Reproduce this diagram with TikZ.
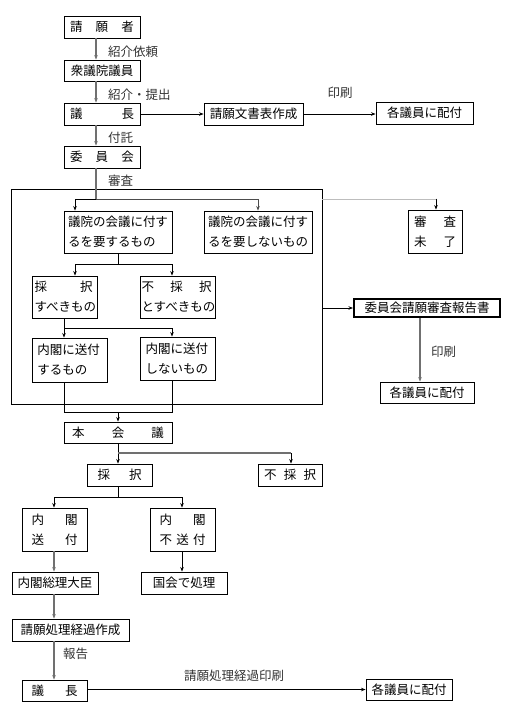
\documentclass[tikz,border=0pt]{standalone}
\usepackage{fontspec}
\setmainfont{Noto Sans CJK JP}
\usetikzlibrary{arrows.meta,calc}
\definecolor{lg}{HTML}{707070}
\definecolor{llg}{HTML}{BDBDBD}
\newcommand{\spr}[2]{\makebox[#1pt][s]{#2}}
\begin{document}
\begin{tikzpicture}[x=1pt,y=-1pt,
  box/.style={draw=black,line width=0.9pt,inner sep=0pt,font=\fontsize{12.5pt}{20pt}\selectfont},
  lbl/.style={inner sep=0pt,font=\fontsize{12.5pt}{20pt}\selectfont,text=black!80},
  ln/.style={line width=0.8pt,draw=black},
  gln/.style={line width=1.3pt,draw=lg},
  arr/.style={ln,-{Stealth[length=4.5pt,width=3.5pt]}},
  garr/.style={gln,-{Stealth[length=4.5pt,width=3.5pt]}}]
\useasboundingbox (0,0) rectangle (511,716);

% top column
\node[box,minimum width=76pt,minimum height=22pt] (seigan) at (102,27) {\spr{64}{請\hfill 願\hfill 者}};
\node[box,minimum width=76pt,minimum height=21pt] (shugiin) at (102,70.5) {衆議院議員};
\node[box,minimum width=76pt,minimum height=22pt] (gicho1) at (102,114) {\spr{64}{議\hfill 長}};
\node[box,minimum width=99pt,minimum height=22pt] (bunsho) at (253.5,114) {請願文書表作成};
\node[box,minimum width=97pt,minimum height=22pt] (haifu1) at (424.5,113) {各議員に配付};
\node[box,minimum width=76pt,minimum height=22pt] (iinkai) at (102,157) {\spr{64}{委\hfill 員\hfill 会}};

\node[lbl,anchor=west] (l1) at (108,52) {紹介依頼};
\node[lbl,anchor=west] (l2) at (108,95) {紹介・提出};
\node[lbl] (l3) at (340,93) {印刷};
\node[lbl,anchor=west] (l4) at (108,138) {付託};
\node[lbl,anchor=west] (l5) at (108,181) {審査};

% big box
\node[draw=black,line width=0.9pt,minimum width=311pt,minimum height=215pt,inner sep=0pt] (big) at (166.5,296.5) {};

\node[box,minimum width=108pt,minimum height=42pt] (yosuru) at (118,232)
  {\parbox{100pt}{議院の会議に付す\\るを要するもの}};
\node[box,minimum width=108pt,minimum height=42pt] (yoshinai) at (258,232)
  {\parbox{100pt}{議院の会議に付す\\るを要しないもの}};
\node[box,minimum width=54pt,minimum height=43pt] (miryo) at (435,231.5)
  {\parbox{42pt}{\spr{42}{審\hfill 査}\\\spr{42}{未\hfill 了}}};
\node[box,minimum width=65pt,minimum height=42pt] (saib) at (64.5,297)
  {\parbox{60pt}{\spr{58}{採\hfill 択}\\すべきもの}};
\node[box,minimum width=75pt,minimum height=42pt] (fusaib) at (177.5,297)
  {\parbox{72pt}{\spr{70}{不\hfill 採\hfill 択}\\とすべきもの}};
\node[box,minimum width=75pt,minimum height=44pt] (soufu) at (69.5,360)
  {\parbox{64pt}{内閣に送付\\するもの}};
\node[box,minimum width=75pt,minimum height=43pt] (fusoufu) at (177.5,358.5)
  {\parbox{64pt}{内閣に送付\\しないもの}};

% right side
\node[box,line width=2pt,minimum width=146pt,minimum height=18pt] (report) at (427,308) {委員会請願審査報告書};
\node[box,minimum width=94pt,minimum height=21pt] (haifu2) at (427,392.5) {各議員に配付};
\node[lbl,anchor=west] (l6) at (431,352) {印刷};

% bottom
\node[box,minimum width=108pt,minimum height=21pt] (honkaigi) at (118,432.5) {\spr{92}{本\hfill 会\hfill 議}};
\node[box,minimum width=65pt,minimum height=22pt] (saitaku) at (119.5,475) {\spr{44}{採\hfill 択}};
\node[box,minimum width=64pt,minimum height=22pt] (fusaitaku) at (290,475) {\spr{52}{不\hfill 採\hfill 択}};
\node[box,minimum width=65pt,minimum height=43pt] (nsoufu) at (54.5,529.5)
  {\parbox{46pt}{\spr{46}{内\hfill 閣}\\\spr{46}{送\hfill 付}}};
\node[box,minimum width=65pt,minimum height=43pt] (nfusoufu) at (182.5,529.5)
  {\parbox{46pt}{\spr{46}{内\hfill 閣}\\\spr{46}{不\hfill 送\hfill 付}}};
\node[box,minimum width=86pt,minimum height=22pt] (sori) at (55,583) {内閣総理大臣};
\node[box,minimum width=86pt,minimum height=22pt] (kokkai) at (184,583) {国会で処理};
\node[box,minimum width=117pt,minimum height=22pt] (keika) at (70.5,630) {請願処理経過作成};
\node[box,minimum width=65pt,minimum height=21pt] (gicho2) at (54.5,690.5) {\spr{46}{議\hfill 長}};
\node[box,minimum width=86pt,minimum height=21pt] (haifu3) at (409,689.5) {各議員に配付};
\node[lbl,anchor=west] (l7) at (63,654) {報告};
\node[lbl] (l8) at (234,676) {請願処理経過印刷};

% helper coordinates
\coordinate (vx) at (96,0);
\coordinate (j1) at (96,199);
\coordinate (a75) at (75,0);
\coordinate (a258) at (258,0);
\coordinate (a436) at (436,0);
\coordinate (j2) at (118,264);
\coordinate (a172) at (172,0);
\coordinate (a64) at (64,0);
\coordinate (j3) at (64,328);
\coordinate (j4) at (118,412);
\coordinate (a420) at (420,0);
\coordinate (j5) at (118,453);
\coordinate (a291) at (291,0);
\coordinate (j6) at (118,497);
\coordinate (a54) at (54,0);
\coordinate (a182) at (182,0);

% connectors top
\draw[garr] (seigan.south -| vx) -- (shugiin.north -| vx);
\draw[garr] (shugiin.south -| vx) -- (gicho1.north -| vx);
\draw[garr] (gicho1.south -| vx) -- (iinkai.north -| vx);
\draw[arr] (gicho1.east) -- (bunsho.west);
\draw[arr] (bunsho.east) -- (haifu1.west |- bunsho.east);
\draw[gln] (iinkai.south -| vx) -- (j1);
\draw[arr] (j1) -| (yosuru.north -| a75);
\draw[arr,draw=black!70] (j1) -| (yoshinai.north -| a258);
\draw[line width=0.8pt,draw=llg] (j1 -| big.east) -- (j1 -| a436);
\draw[arr] ($(j1 -| a436)+(0,-0.4)$) -- (miryo.north -| a436);

% inside big box
\draw[ln] (yosuru.south) -- (j2);
\draw[arr] (j2) -| (saib.north -| a75);
\draw[arr] (j2) -| (fusaib.north -| a172);
\draw[ln] (saib.south -| a64) -- (j3);
\draw[arr] (j3) -- (soufu.north -| a64);
\draw[arr] (j3) -| (fusoufu.north -| a172);
\draw[ln] (soufu.south -| a64) |- (j4);
\draw[ln] (fusoufu.south -| a172) |- (j4);
\draw[arr] (j4) -- (honkaigi.north -| j4);

% right
\draw[arr] (report.west -| big.east) -- (report.west);
\draw[garr] (report.south -| a420) -- (haifu2.north -| a420);

% bottom
\draw[arr] (honkaigi.south -| j5) -- (saitaku.north -| j5);
\draw[gln] (j5) -- (j5 -| a291);
\draw[arr] (j5 -| a291) -- (fusaitaku.north -| a291);
\draw[ln] (saitaku.south -| j6) -- (j6);
\draw[arr] (j6) -| (nsoufu.north -| a54);
\draw[arr] (j6) -| (nfusoufu.north -| a182);
\draw[garr] (nsoufu.south -| a54) -- (sori.north -| a54);
\draw[arr] (nfusoufu.south -| a182) -- (kokkai.north -| a182);
\draw[garr] (sori.south -| a54) -- (keika.north -| a54);
\draw[garr] (keika.south -| a54) -- (gicho2.north -| a54);
\draw[arr] (gicho2.east |- haifu3.west) -- (haifu3.west);
\end{tikzpicture}
\end{document}
